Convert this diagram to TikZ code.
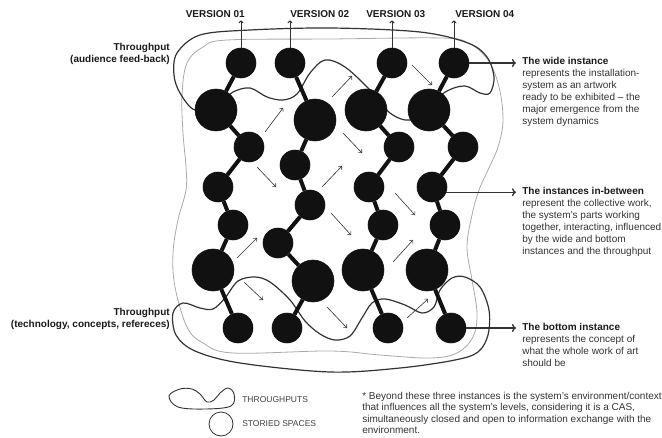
\documentclass[tikz,border=0pt]{standalone}
\usepackage{fontspec}
\setmainfont{Liberation Sans}
\usepackage{tikz}
\usetikzlibrary{arrows.meta}
\usepackage{xcolor}

\definecolor{ink}{HTML}{111111}
\definecolor{wire}{HTML}{333333}
\definecolor{haze}{HTML}{AAAAAA}

\begin{document}
\begin{tikzpicture}[->,>={To[length=3pt,width=5pt]},x=1pt,y=-1pt,line width=0.2mm,
  space/.style={circle,fill=ink,draw=ink,inner sep=0pt,minimum size=30pt},
  bigspace/.style={space,minimum size=42pt},
  link/.style={-,line width=4pt,draw=ink},
  flow/.style={-,line width=1.2pt,draw=wire},
  drift/.style={draw=wire,line width=0.6pt},
  pointer/.style={-{To[length=4pt,width=8pt]},line width=1.3pt,draw=wire,shorten >=6pt},
  tag/.style={font=\fontsize{10}{12}\selectfont\bfseries,text=black!90,inner sep=0pt},
  note/.style={font=\fontsize{10}{12}\selectfont,text=black!80,align=left,inner sep=0pt,anchor=north west},
  keytext/.style={font=\fontsize{8.5}{10}\selectfont,text=black!75,inner sep=0pt,anchor=west}]
  \useasboundingbox (0,0) rectangle (662,437);

  % environment
  \draw[-,haze,line width=0.8pt] plot[smooth cycle,tension=0.6] coordinates {
    (187,63) (203,47) (227,40) (330,39) (441,38) (468,43) (488,60) (499,87) (503,120)
    (498,147) (488,170) (479,190) (472,215) (467,247) (472,280) (477,313) (473,337)
    (457,353) (430,358) (380,355) (330,351) (233,353) (203,343) (187,327) (175,287)
    (173,253) (178,220) (186,190) (186,167) (183,133) (182,95)};

  % throughputs
  \draw[flow] plot[smooth cycle,tension=0.55] coordinates {
    (233,92) (250,88) (267,97) (283,100) (297,94) (310,73) (325,60) (345,67) (370,90)
    (390,113) (410,120) (428,106) (447,91) (465,86) (480,93) (490,93) (494,77) (487,57)
    (468,43) (420,32) (331,28) (250,30) (200,35) (177,53) (174,75) (180,93) (195,110) (218,104)};
  \draw[flow] plot[smooth cycle,tension=0.55] coordinates {
    (183,303) (200,308) (213,309) (225,298) (238,281) (255,277) (270,282) (290,300)
    (305,321) (320,334) (335,340) (350,336) (362,318) (372,303) (385,299) (405,305)
    (422,313) (434,307) (440,290) (452,278) (465,277) (480,287) (489,310) (488,335)
    (478,352) (455,360) (400,368) (330,372) (240,363) (195,351) (176,335) (173,313)};

  % interactions between versions
  \draw[drift] (265,132) -- (283,108);
  \draw[drift] (257,167) -- (276,187);
  \draw[drift] (237,258) -- (257,238);
  \draw[drift] (244,282) -- (263,300);
  \draw[drift] (332,97) -- (352,76);
  \draw[drift] (343,133) -- (362,153);
  \draw[drift] (322,187) -- (342,166);
  \draw[drift] (331,213) -- (351,235);
  \draw[drift] (327,307) -- (347,328);
  \draw[drift] (412,65) -- (432,85);
  \draw[drift] (395,193) -- (415,215);
  \draw[drift] (393,262) -- (413,240);
  \draw[drift] (407,318) -- (428,299);

  % version 01
  \node[space]    (A1) at (241,63)  {};
  \node[bigspace] (A2) at (216,110) {};
  \node[space]    (A3) at (249,147) {};
  \node[space]    (A4) at (218,187) {};
  \node[space]    (A5) at (233,225) {};
  \node[bigspace] (A6) at (213,270) {};
  \node[space]    (A7) at (238,328) {};
  % version 02
  \node[space]    (B1) at (290,63)  {};
  \node[bigspace] (B2) at (315,120) {};
  \node[space]    (B3) at (295,165) {};
  \node[space]    (B4) at (310,205) {};
  \node[space]    (B5) at (278,243) {};
  \node[bigspace] (B6) at (313,281) {};
  \node[space]    (B7) at (287,328) {};
  % version 03
  \node[space]    (C1) at (392,63)  {};
  \node[bigspace] (C2) at (366,110) {};
  \node[space]    (C3) at (399,147) {};
  \node[space]    (C4) at (369,187) {};
  \node[space]    (C5) at (383,225) {};
  \node[bigspace] (C6) at (363,270) {};
  \node[space]    (C7) at (388,328) {};
  % version 04
  \node[space]    (D1) at (454,63)  {};
  \node[bigspace] (D2) at (429,110) {};
  \node[space]    (D3) at (463,147) {};
  \node[space]    (D4) at (432,187) {};
  \node[space]    (D5) at (445,225) {};
  \node[bigspace] (D6) at (427,270) {};
  \node[space]    (D7) at (451,328) {};

  \path[link] (A1) edge (A2) (A2) edge (A3) (A3) edge (A4)
              (A4) edge (A5) (A5) edge (A6) (A6) edge (A7);
  \path[link] (B1) edge (B2) (B2) edge (B3) (B3) edge (B4)
              (B4) edge (B5) (B5) edge (B6) (B6) edge (B7);
  \path[link] (C1) edge (C2) (C2) edge (C3) (C3) edge (C4)
              (C4) edge (C5) (C5) edge (C6) (C6) edge (C7);
  \path[link] (D1) edge (D2) (D2) edge (D3) (D3) edge (D4)
              (D4) edge (D5) (D5) edge (D6) (D6) edge (D7);

  % versions
  \node[tag,anchor=base east] (V1) at (245,17) {VERSION 01};
  \node[tag,anchor=base west] (V2) at (290,17) {VERSION 02};
  \node[tag,anchor=base west] (V3) at (366,17) {VERSION 03};
  \node[tag,anchor=base west] (V4) at (455,17) {VERSION 04};
  \draw[wire,line width=1pt,shorten >=3pt] (A1) -- (A1 |- V1.south);
  \draw[wire,line width=1pt,shorten >=3pt] (B1) -- (B1 |- V2.south);
  \draw[wire,line width=1pt,shorten >=3pt] (C1) -- (C1 |- V3.south);
  \draw[wire,line width=1pt,shorten >=3pt] (D1) -- (D1 |- V4.south);

  % throughput labels
  \node[tag,align=right,anchor=north east] (TA) at (170,43)
    {Throughput\\(audience feed-back)};
  \node[tag,align=right,anchor=north east] (TB) at (170,308)
    {Throughput\\(technology, concepts, refereces)};

  % instances
  \node[note] (Wide) at (522,57) {\textbf{\color{black!90}The wide instance}\\
    represents the installation-\\system as an artwork\\
    ready to be exhibited -- the\\major emergence from the\\system dynamics};
  \node[note] (Mid) at (522,187) {\textbf{\color{black!90}The instances in-between}\\
    represent the collective work,\\the system's parts working\\
    together, interacting, influenced\\by the wide and bottom\\
    instances and the throughput};
  \node[note] (Bot) at (522,323) {\textbf{\color{black!90}The bottom instance}\\
    represents the concept of\\what the whole work of art\\should be};
  \draw[pointer] (D1) -- (D1 -| Wide.west);
  \draw[pointer] (D4.-20) -- (D4.-20 -| Mid.west);
  \draw[pointer] (D7) -- (D7 -| Bot.west);

  % legend
  \draw[flow,line width=0.9pt] plot[smooth cycle,tension=0.6] coordinates {
    (169,396) (180,389) (192,389) (200,394) (207,402) (214,400) (220,393) (228,388)
    (234,394) (231,406) (205,409) (178,407)};
  \node[circle,draw=wire,line width=0.8pt,minimum size=24pt,inner sep=0pt] (key) at (221,424) {};
  \node[keytext] (keyflow) at (242,400) {THROUGHPUTS};
  \node[keytext] (keyspace) at (key.east -| keyflow.west) {STORIED SPACES};

  \node[note,font=\fontsize{10}{11.4}\selectfont] (Foot) at (362,392) {* Beyond these three instances is the system's environment/context\\
    that influences all the system's levels, considering it is a CAS,\\
    simultaneously closed and open to information exchange with the\\environment.};
\end{tikzpicture}
\end{document}
